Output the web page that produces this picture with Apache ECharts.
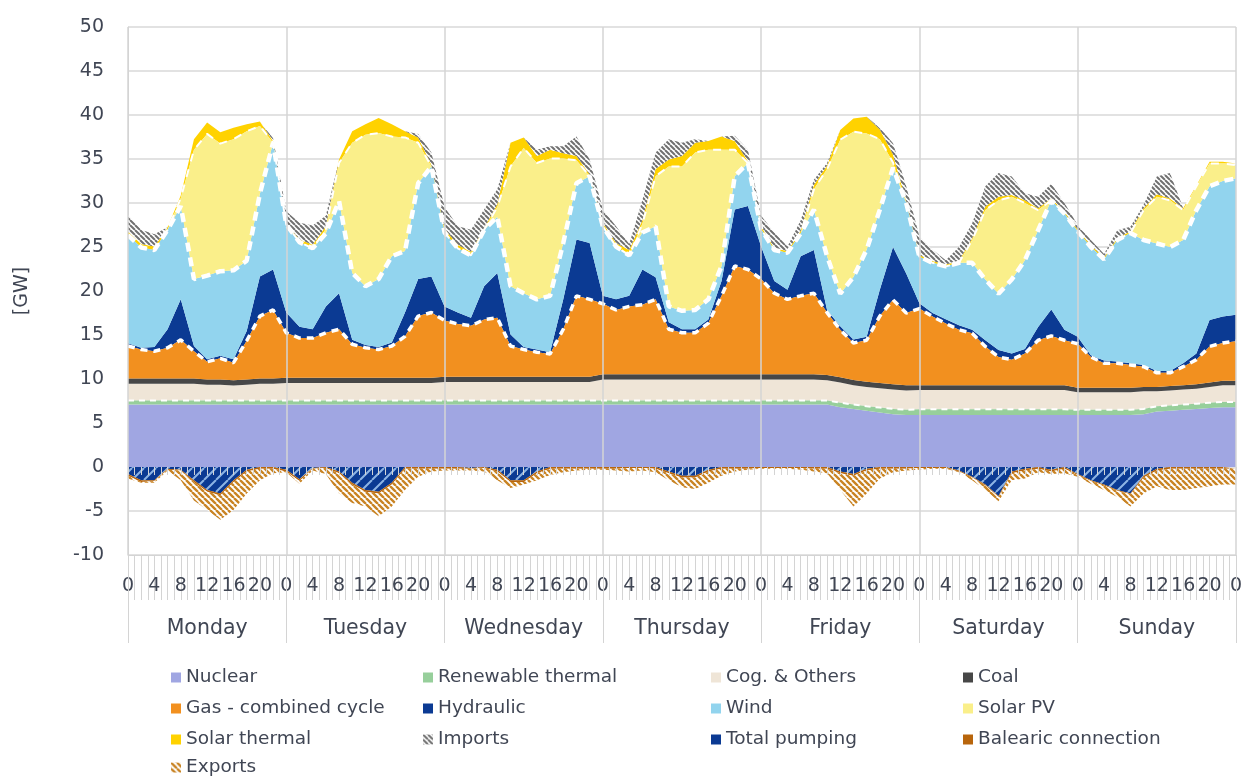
<!DOCTYPE html>
<html><head><meta charset="utf-8">
<script src="https://cdn.jsdelivr.net/npm/echarts@6/dist/echarts.min.js"></script>
<style>html,body{margin:0;padding:0;background:#fff}#c{width:1245px;height:777px}</style>
</head><body><div id="c"></div>
<script>
const hours = [0,2,4,6,8,10,12,14,16,18,20,22,24,26,28,30,32,34,36,38,40,42,44,46,48,50,52,54,56,58,60,62,64,66,68,70,72,74,76,78,80,82,84,86,88,90,92,94,96,98,100,102,104,106,108,110,112,114,116,118,120,122,124,126,128,130,132,134,136,138,140,142,144,146,148,150,152,154,156,158,160,162,164,166,168];
const days = ['Monday','Tuesday','Wednesday','Thursday','Friday','Saturday','Sunday'];
const nuclear = [
 7.1,7.1,7.1,7.1,7.1,7.1,7.1,7.1,7.1,7.1,7.1,7.1,
 7.1,7.1,7.1,7.1,7.1,7.1,7.1,7.1,7.1,7.1,7.1,7.1,
 7.1,7.1,7.1,7.1,7.1,7.1,7.1,7.1,7.1,7.1,7.1,7.1,
 7.1,7.1,7.1,7.1,7.1,7.1,7.1,7.1,7.1,7.1,7.1,7.1,
 7.1,7.1,7.1,7.1,7.1,7.1,6.8,6.6,6.4,6.2,6.0,5.9,
 5.9,5.9,5.9,5.9,5.9,5.9,5.9,5.9,5.9,5.9,5.9,5.9,
 5.9,5.9,5.9,5.9,5.9,6.0,6.3,6.4,6.5,6.6,6.7,6.8,
 6.8];
const renewableThermal = [
 0.45,0.45,0.45,0.45,0.45,0.45,0.45,0.45,0.45,0.45,0.45,0.45,
 0.45,0.45,0.45,0.45,0.45,0.45,0.45,0.45,0.45,0.45,0.45,0.45,
 0.45,0.45,0.45,0.45,0.45,0.45,0.45,0.45,0.45,0.45,0.45,0.45,
 0.45,0.45,0.45,0.45,0.45,0.45,0.45,0.45,0.45,0.45,0.45,0.45,
 0.45,0.45,0.45,0.45,0.45,0.45,0.5,0.5,0.5,0.55,0.6,0.6,
 0.65,0.65,0.65,0.65,0.65,0.65,0.65,0.65,0.65,0.65,0.65,0.65,
 0.6,0.6,0.6,0.6,0.6,0.6,0.6,0.6,0.6,0.6,0.6,0.6,
 0.6];
const cogOthers = [
 1.9,1.9,1.9,1.9,1.9,1.9,1.8,1.8,1.7,1.8,1.9,1.9,
 2.0,2.0,2.0,2.0,2.0,2.0,2.0,2.0,2.0,2.0,2.0,2.0,
 2.1,2.1,2.1,2.1,2.1,2.1,2.1,2.1,2.1,2.1,2.1,2.1,
 2.4,2.4,2.4,2.4,2.4,2.4,2.4,2.4,2.4,2.4,2.4,2.4,
 2.4,2.4,2.4,2.4,2.4,2.3,2.3,2.2,2.2,2.2,2.2,2.2,
 2.2,2.2,2.2,2.2,2.2,2.2,2.2,2.2,2.2,2.2,2.2,2.2,
 2.0,2.0,2.0,2.0,2.0,2.0,1.7,1.7,1.7,1.7,1.8,1.9,
 1.9];
const coal = [
 0.6,0.6,0.6,0.6,0.6,0.6,0.6,0.6,0.6,0.6,0.6,0.6,
 0.6,0.6,0.6,0.6,0.6,0.6,0.6,0.6,0.6,0.6,0.6,0.6,
 0.6,0.6,0.6,0.6,0.6,0.6,0.6,0.6,0.6,0.6,0.6,0.6,
 0.6,0.6,0.6,0.6,0.6,0.6,0.6,0.6,0.6,0.6,0.6,0.6,
 0.6,0.6,0.6,0.6,0.6,0.6,0.6,0.6,0.6,0.6,0.6,0.6,
 0.55,0.55,0.55,0.55,0.55,0.55,0.55,0.55,0.55,0.55,0.55,0.55,
 0.5,0.5,0.5,0.5,0.5,0.5,0.5,0.5,0.5,0.5,0.5,0.5,
 0.5];
const gas = [
 3.7,3.3,3.1,3.5,4.4,3.1,2.0,2.4,2.0,4.4,7.1,7.8,
 5.1,4.5,4.5,5.1,5.5,3.8,3.4,3.2,3.6,4.7,7.0,7.4,
 6.4,6.0,5.8,6.5,6.7,3.5,3.1,2.8,2.6,5.4,9.2,8.8,
 8.0,7.3,7.7,7.9,8.5,5.1,4.7,4.7,5.8,8.9,12.3,11.9,
 10.8,9.2,8.5,8.9,9.2,7.1,5.4,4.2,4.7,7.6,9.6,8.2,
 8.7,7.8,7.0,6.3,5.9,4.4,3.2,2.9,3.6,5.1,5.6,5.1,
 5.0,3.5,2.8,2.8,2.6,2.3,1.6,1.5,2.1,2.8,4.1,4.3,
 4.5];
const hydraulic = [
 0.3,0.2,0.5,2.1,4.6,0.6,0.3,0.3,0.4,1.1,4.5,4.6,
 2.3,1.3,1.0,3.0,4.1,0.5,0.3,0.3,0.4,2.7,4.2,4.1,
 1.6,1.3,0.9,3.8,5.1,1.3,0.3,0.3,0.2,3.4,6.4,6.4,
 0.9,1.2,1.2,4.0,2.5,0.8,0.4,0.4,0.4,1.7,6.4,7.2,
 3.7,1.4,1.1,4.5,4.9,0.3,0.4,0.4,0.4,3.0,6.0,4.5,
 0.6,0.4,0.5,0.5,0.4,0.7,0.8,0.7,0.5,1.5,3.0,1.2,
 0.8,0.2,0.3,0.2,0.2,0.2,0.2,0.2,0.4,0.7,3.0,3.0,
 3.0];
const wind = [
 12.3,11.4,11.0,11.3,10.6,7.6,9.5,9.6,10.1,8.0,9.4,14.4,
 10.0,9.6,9.2,8.3,10.5,7.6,6.7,7.7,9.8,7.0,10.9,12.5,
 8.4,7.3,7.1,6.4,6.4,5.5,6.1,5.7,6.4,6.4,6.4,7.6,
 7.9,6.0,4.6,4.2,5.8,1.8,2.1,2.2,2.3,1.7,3.8,4.9,
 2.0,3.5,4.2,2.6,4.6,6.1,3.7,7.1,9.9,9.1,9.0,8.0,
 5.3,5.7,6.0,7.1,7.6,6.9,6.4,8.4,10.1,11.0,12.4,13.2,
 12.0,12.3,11.5,13.8,14.8,14.2,14.5,14.1,14.0,16.3,15.2,15.4,
 15.5];
const solarPV = [
 0,0,0,0,0.9,14.7,16.1,14.5,14.9,14.7,7.7,0,
 0,0,0,0.5,4.3,14.8,17.2,16.6,13.6,12.9,4.6,0,
 0,0,0,0,1.1,13.6,16.5,15.5,15.6,9.6,2.6,0,
 0,0,0,1.0,5.7,15.9,16.4,17.9,17.0,13.2,3.0,0,
 0,0,0,0,2.3,9.9,17.5,16.5,13.2,8.0,0.6,0,
 0,0,0,0,2.6,7.9,10.6,9.4,6.5,2.3,0,0,
 0,0,0,0,0,3.4,5.3,5.3,3.4,2.7,2.6,2.0,
 1.5];
const solarThermal = [
 0.4,0.4,0.4,0.3,0.3,1.2,1.3,1.3,1.3,0.8,0.5,0.2,
 0.1,0.3,0.4,0.3,0.4,1.3,1.2,1.7,1.4,0.7,0.6,0.2,
 0.4,0.4,0.4,0.2,0.3,2.7,1.2,0.8,1.0,0.6,0.5,0.2,
 0.4,0.4,0.6,0.4,0.8,0.8,1.2,1.1,1.0,1.5,1.0,0.2,
 0.3,0.2,0.2,0.3,0.5,0.4,1.1,1.5,1.9,1.1,0.9,0.2,
 0.2,0.2,0.2,0.2,0.2,0.4,0.4,0.2,0.3,0.2,0.2,0.2,
 0.2,0.2,0.2,0.2,0.2,0.2,0.3,0.2,0.2,0.1,0.2,0.2,
 0.2];
const imports = [
 1.9,1.6,1.4,0,0,0,0,0,0,0,0,0.3,
 1.4,1.9,2.2,1.2,0,0,0,0,0,0,0.4,1.4,
 2.5,2.1,2.5,2.1,1.7,0,0,0.7,0.4,0.8,2.2,1.7,
 1.5,1.9,0.7,2.3,1.9,2.3,1.5,0.4,0,0,0.6,1.3,
 1.2,1.8,0.5,1.2,0.6,0.3,0,0,0,0.2,1.3,1.7,
 2.1,1.3,0.5,1.6,1.7,2.3,2.7,2.1,0.8,1.3,1.7,1.0,
 0.5,0.6,0.4,0.9,0.5,0.4,2.0,2.9,0,0,0,0,
 0];
const totalPumping = [
 -0.8,-1.5,-1.5,-0.2,-0.3,-1.5,-2.6,-3.0,-1.5,-0.3,0,0,
 -0.3,-1.4,-0.1,0,-0.5,-1.8,-2.6,-2.8,-1.8,0,0,0,
 0,0,-0.1,0,-0.3,-1.5,-1.5,-0.5,0,0,0,0,
 0,0,0,0,0,-0.5,-1.0,-1.0,-0.3,0,0,0,
 0,0,0,0,0,0,-0.5,-0.8,-0.2,0,0,0,
 0,0,0,-0.4,-1.1,-2.0,-3.3,-0.5,-0.2,0,-0.3,0,
 -0.8,-1.5,-2.0,-2.6,-3.0,-1.0,-0.2,0,0,0,0,0,
 0];
const balearic = [
 -0.2,-0.2,-0.1,-0.1,-0.1,-0.2,-0.2,-0.2,-0.2,-0.2,-0.2,-0.2,
 -0.2,-0.2,-0.1,-0.1,-0.2,-0.2,-0.2,-0.2,-0.2,-0.2,-0.2,-0.2,
 -0.2,-0.2,-0.1,-0.1,-0.2,-0.2,-0.2,-0.2,-0.2,-0.2,-0.2,-0.2,
 -0.2,-0.2,-0.1,-0.1,-0.2,-0.2,-0.2,-0.2,-0.2,-0.2,-0.2,-0.2,
 -0.1,-0.1,-0.1,-0.1,-0.2,-0.2,-0.2,-0.2,-0.2,-0.2,-0.2,-0.2,
 -0.1,-0.1,-0.1,-0.1,-0.1,-0.1,-0.1,-0.2,-0.2,-0.2,-0.2,-0.2,
 -0.1,-0.1,-0.1,-0.1,-0.1,-0.2,-0.2,-0.2,-0.2,-0.2,-0.2,-0.2,
 -0.2];
const exportsArr = [
 -0.3,-0.1,-0.2,-0.1,-1.1,-2.1,-2.1,-2.8,-3.2,-2.5,-1.3,-0.5,
 -0.1,-0.3,-0.2,-0.7,-2.3,-2.1,-1.7,-2.6,-2.5,-2.4,-0.9,-0.3,
 -0.2,-0.2,-0.2,-0.4,-1.0,-0.7,-0.3,-0.8,-0.7,-0.4,-0.2,-0.1,
 -0.1,-0.2,-0.4,-0.3,-0.4,-0.8,-1.1,-1.3,-1.3,-0.8,-0.3,-0.1,
 -0.1,-0.1,-0.1,-0.2,-0.3,-0.5,-1.9,-3.5,-2.6,-1.1,-0.4,-0.2,
 -0.2,-0.1,-0.1,-0.1,-0.3,-0.5,-0.5,-0.8,-0.9,-0.4,-0.3,-0.5,
 -0.2,-0.3,-0.5,-0.7,-1.4,-1.8,-1.8,-2.4,-2.4,-2.2,-2.0,-1.8,
 -1.8];

function hatch(bg, fg, size, width, dir) {
  const c = document.createElement('canvas');
  c.width = size; c.height = size;
  const g = c.getContext('2d');
  if (bg) { g.fillStyle = bg; g.fillRect(0, 0, size, size); }
  g.strokeStyle = fg; g.lineWidth = width;
  g.beginPath();
  for (const k of [-size, 0, size]) {
    if (dir === '\\') { g.moveTo(k, 0); g.lineTo(k + size, size); }
    else { g.moveTo(k, size); g.lineTo(k + size, 0); }
  }
  g.stroke();
  return { image: c, repeat: 'repeat' };
}
const importsFill = hatch('#ffffff', '#707070', 5, 2, '\\');
const exportsFill = hatch('#ffffff', '#C98424', 6, 2.4, '\\');
const pumpingFill = hatch('#0B3A93', '#8DB4E4', 12, 2, '/');

const FONT = 'DejaVu Sans';
const TXT = '#404654';

function mk(name, arr, color, stack, line) {
  const s = {
    name, type: 'line', stack, stackStrategy: 'all',
    symbol: 'none', showSymbol: false, smooth: false, xAxisIndex: 3, yAxisIndex: 0,
    data: arr,
    itemStyle: { color: color },
    areaStyle: { color: color, opacity: 1 },
    lineStyle: { width: 0, opacity: 0 },
    z: 2,
    emphasis: { disabled: true },
    silent: true
  };
  if (line) { s.lineStyle = line; s.z = 3; }
  return s;
}
const dashW = (w, d) => ({ color: '#ffffff', width: w, type: d, opacity: 1 });

const series = [
  mk('Nuclear', nuclear, '#A0A6E2', 'pos'),
  mk('Renewable thermal', renewableThermal, '#97CF9B', 'pos', dashW(2, [6, 5])),
  mk('Cog. & Others', cogOthers, '#EFE5D7', 'pos'),
  mk('Coal', coal, '#474747', 'pos'),
  mk('Gas - combined cycle', gas, '#F2901F', 'pos', dashW(3.5, [7, 6])),
  mk('Hydraulic', hydraulic, '#0B3A93', 'pos'),
  mk('Wind', wind, '#92D4EE', 'pos', dashW(4.5, [9, 6])),
  mk('Solar PV', solarPV, '#FAEF8A', 'pos', dashW(2, [8, 8])),
  mk('Solar thermal', solarThermal, '#FFD200', 'pos'),
  mk('Imports', imports, importsFill, 'pos'),
  mk('Total pumping', totalPumping, pumpingFill, 'neg'),
  mk('Balearic connection', balearic, '#B8650C', 'neg'),
  mk('Exports', exportsArr, exportsFill, 'neg')
];
series[10].itemStyle = { color: '#0B3A93' };

const legTxt = { fontFamily: FONT, fontSize: 18.5, color: TXT, lineHeight: 18 };
function legend(left, top, names) {
  return {
    orient: 'vertical', left, top, padding: 0,
    itemWidth: 10, itemHeight: 10, itemGap: 12,
    icon: 'rect', textStyle: legTxt, selectedMode: false, data: names
  };
}

const chart = echarts.init(document.getElementById('c'), null, { renderer: 'canvas' });
chart.setOption({
  animation: false,
  backgroundColor: '#ffffff',
  grid: { left: 128, right: -9, top: 27, bottom: 222, containLabel: false },
  legend: [
    legend(171, 668, ['Nuclear', 'Gas - combined cycle', 'Solar thermal']),
    legend(171, 758, ['Exports']),
    legend(423, 668, ['Renewable thermal', 'Hydraulic', 'Imports']),
    legend(711, 668, ['Cog. & Others', 'Wind', 'Total pumping']),
    legend(963, 668, ['Coal', 'Solar PV', 'Balearic connection'])
  ],
  graphic: [{
    type: 'text', x: 22, y: 291, rotation: Math.PI / 2,
    style: { text: '[GW]', fontFamily: FONT, fontSize: 19, fill: TXT, textAlign: 'center', textVerticalAlign: 'middle' }
  }],
  xAxis: [
    {
      type: 'value', min: 0, max: 168, interval: 1, position: 'bottom', z: 10,
      axisLine: { show: false, onZero: true },
      axisTick: { show: true, length: 8, lineStyle: { color: '#d4d4d4', width: 1 } },
      axisLabel: { show: false }, splitLine: { show: false }
    },
    {
      type: 'value', min: 0, max: 168, interval: 1, position: 'bottom',
      axisLine: { show: true, onZero: false, lineStyle: { color: '#d4d4d4' } },
      axisTick: { show: true, length: 45, lineStyle: { color: '#d4d4d4', width: 1 } },
      axisLabel: {
        margin: 22, fontFamily: FONT, fontSize: 19, color: TXT, showMinLabel: true, showMaxLabel: true,
        formatter: v => (v % 4 === 0 ? String(v % 24) : '')
      },
      splitLine: { show: false }
    },
    {
      type: 'category', data: days, position: 'bottom', boundaryGap: true, z: 10,
      axisLine: { show: false, onZero: false },
      axisTick: { show: true, length: 88, interval: 0, lineStyle: { color: '#d4d4d4', width: 1 } },
      axisLabel: { margin: 63, fontFamily: FONT, fontSize: 20.5, color: TXT, interval: 0 },
      splitLine: { show: true, interval: 0, lineStyle: { color: '#d4d4d4', width: 1.5 } }
    },
    {
      type: 'category', data: hours, boundaryGap: false, show: false,
      axisLine: { onZero: false }
    }
  ],
  yAxis: [{
    type: 'value', min: -10, max: 50, interval: 5,
    axisLine: { show: true, lineStyle: { color: '#d4d4d4' } },
    axisTick: { show: false },
    axisLabel: { margin: 24, fontFamily: FONT, fontSize: 19, color: TXT },
    splitLine: { show: true, lineStyle: { color: '#d9d9d9', width: 1.5 } }
  }],
  series
});
</script></body></html>
